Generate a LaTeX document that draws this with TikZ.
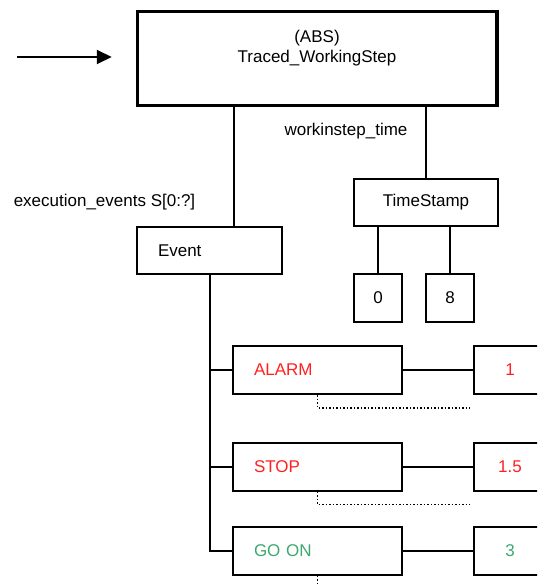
\documentclass[tikz,border=0pt]{standalone}
\usepackage{fontspec}
\setmainfont{Liberation Sans}
\usetikzlibrary{arrows.meta,positioning}

\definecolor{alarmred}{RGB}{255,32,32}
\definecolor{goongreen}{RGB}{60,168,110}

\begin{document}
\begin{tikzpicture}[x=1pt,y=-1pt,line width=2pt,
        every node/.style={font=\fontsize{17}{20.4}\selectfont}]
        \tikzstyle{box}=[draw,rectangle,inner sep=0pt,minimum height=47pt]
        \tikzstyle{leftbox}=[box,align=left,inner xsep=21pt]
        \tikzstyle{valbox}=[box,minimum width=72pt,minimum height=48pt]
        \tikzstyle{numbox}=[box,minimum width=48pt,minimum height=48pt]
        \tikzstyle{dots}=[dotted,line width=1.5pt]

        \useasboundingbox (0,0) rectangle (537,585);
        \clip (0,0) rectangle (537,585);

        % entity and its attributes
        \node[box,line width=3.5pt,minimum width=359.5pt,minimum height=94pt] (ws) at (317.25,58.5) {};
        \node[align=center]                        (wsname)  at (317,48)      {(ABS)\\Traced\_WorkingStep};
        \node                                      (wstime)  at (346,131)     {workinstep\_time};
        \node                                      (evlabel) at (104.5,202)   {execution\_events S[0:?]};

        \node[leftbox,text width=103pt]            (event)   at (209.5,250.5) {Event};
        \node[box,minimum width=144pt]             (ts)      at (426,202.5)   {TimeStamp};
        \node[numbox]                              (zero)    at (378,298)     {0};
        \node[numbox]                              (eight)   at (450,298)     {8};

        % event instances
        \node[leftbox,text width=127pt,minimum height=48pt,text=alarmred]  (alarm) at (317.5,370)   {ALARM};
        \node[leftbox,text width=127pt,minimum height=48pt,text=alarmred]  (stop)  at (317.5,466.5) {STOP};
        \node[leftbox,text width=127pt,minimum height=48pt,text=goongreen] (goon)  at (317.5,550.5) {GO ON};

        \node[valbox,text=alarmred]  (valA) at (510,370)   {1};
        \node[valbox,text=alarmred]  (valB) at (510,466.5) {1.5};
        \node[valbox,text=goongreen] (valC) at (510,550.5) {3};

        \coordinate (start) at (17,57);
        \draw[-{Triangle[length=15pt,width=14pt]}] (start) -- ([xshift=-24pt]ws.west |- start);

        \draw ([xshift=24.5pt]event.north) -- ([xshift=24.5pt]event.north |- ws.south);
        \draw (ts.north) -- (ts.north |- ws.south);
        \draw (zero.north) -- (zero.north |- ts.south);
        \draw (eight.north) -- (eight.north |- ts.south);

        \draw (event.south) |- (goon.west);
        \draw (event.south |- alarm.west) -- (alarm.west);
        \draw (event.south |- stop.west) -- (stop.west);

        \path
            (alarm) edge (valA)
            (stop)  edge (valB)
            (goon)  edge (valC)
        ;

        \draw[dots] (alarm.south) |- ([xshift=-3pt,yshift=-13pt]valA.south west);
        \draw[dots] (stop.south)  |- ([xshift=-3pt,yshift=-13pt]valB.south west);
        \draw[dots] (goon.south)  |- ([xshift=-3pt,yshift=-13pt]valC.south west);
    \end{tikzpicture}
\end{document}
